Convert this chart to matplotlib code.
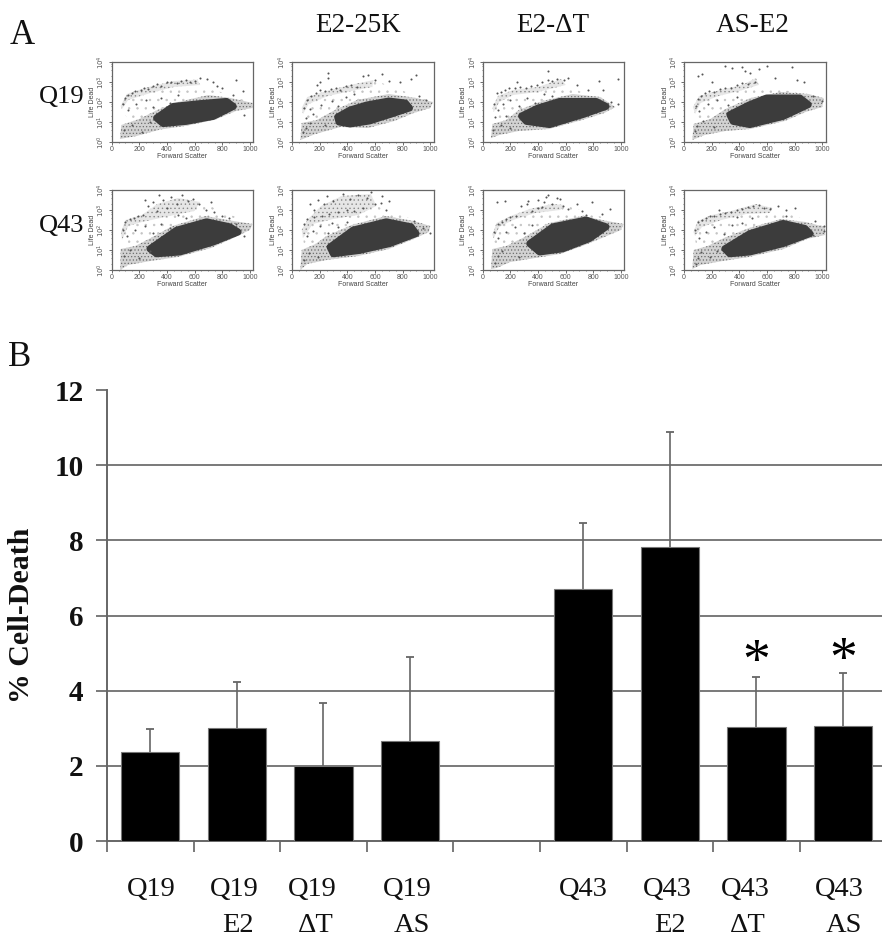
#!/usr/bin/env python3
import math

import matplotlib
matplotlib.use("Agg")
import matplotlib.pyplot as plt

W, H = 882, 939

# panel B values
bar_labels = ["Q19", "Q19", "Q19", "Q19", "", "Q43", "Q43", "Q43", "Q43"]
bar_labels2 = ["", "E2", "\u0394T", "AS", "", "", "E2", "\u0394T", "AS"]
label_px = [151, 234, 312, 407, None, 583, 667, 745, 839]
label2_px = [None, 238, 316, 412, None, None, 670, 748, 844]
bar_pos = [0.5, 1.5, 2.5, 3.5, 5.5, 6.5, 7.5, 8.5]
bar_vals = [2.38, 3.0, 2.0, 2.67, 6.7, 7.83, 3.03, 3.07]
bar_tops = [2.97, 4.22, 3.67, 4.9, 8.45, 10.87, 4.36, 4.47]
star_pos = [7.5, 8.5]
star_y = [4.72, 4.77]
yticks = [0, 2, 4, 6, 8, 10, 12]
grid_vals = [2, 4, 6, 8, 10]

# panel A: dense core, grey halo, upper arc, loose dots
# x is forward scatter, y is log10 of life/dead
p1_core = [(325, 1.2), (445, 1.78), (640, 1.92), (831, 2.03), (880, 1.78), (735, 1.28), (540, 1.03), (373, .92)]
p1_halo = [(60, .15), (70, .85), (200, 1.15), (330, 1.6), (480, 2.0), (700, 2.35), (860, 2.2), (1020, 1.95), (1020, 1.7), (900, 1.55), (750, 1.12), (550, .82), (350, .62), (180, .3)]
p1_arc = [(65, 1.8), (110, 2.4), (250, 2.72), (450, 3.05), (620, 3.12), (640, 2.85), (450, 2.75), (280, 2.45), (120, 2.1), (75, 1.65)]
p1_x = [80, 95, 120, 150, 170, 210, 235, 260, 300, 330, 360, 400, 430, 470, 505, 540, 570, 600, 640, 690, 730, 760, 800, 900, 950, 120, 180, 250, 300, 360, 420, 480, 90, 150, 220, 280, 880, 960]
p1_y = [1.9, 2.2, 2.35, 2.45, 2.55, 2.62, 2.7, 2.66, 2.78, 2.88, 2.8, 2.98, 3.02, 2.95, 3.05, 3.1, 3.0, 3.05, 3.2, 3.15, 3.0, 2.8, 2.7, 3.1, 2.55, 1.6, 1.9, 2.1, 1.75, 2.2, 1.95, 2.35, .6, .85, .5, 1.0, 2.35, 1.35]

p2_core = [(330, 1.25), (420, 1.6), (540, 1.85), (700, 2.05), (820, 1.95), (850, 1.7), (720, 1.4), (560, 1.05), (420, .9), (340, 1.0)]
p2_halo = [(60, .1), (70, .95), (180, 1.1), (310, 1.6), (470, 2.1), (700, 2.4), (900, 2.2), (1020, 2.0), (1000, 1.7), (880, 1.45), (740, 1.05), (550, .7), (350, .75), (170, .4)]
p2_arc = [(70, 1.7), (110, 2.25), (250, 2.55), (420, 2.85), (590, 3.1), (580, 2.75), (430, 2.55), (260, 2.3), (120, 1.9), (80, 1.4)]
p2_x = [90, 110, 140, 170, 200, 240, 280, 320, 350, 390, 430, 470, 510, 550, 600, 650, 700, 780, 860, 900, 100, 130, 200, 260, 330, 390, 450, 150, 210, 260, 290, 80, 100, 130, 240, 920, 970, 180]
p2_y = [1.7, 2.1, 2.3, 2.45, 2.6, 2.55, 2.65, 2.7, 2.6, 2.8, 2.85, 2.75, 3.3, 3.35, 3.1, 3.4, 3.05, 3.0, 3.15, 3.35, 1.2, 1.65, 3.0, 3.2, 1.8, 2.25, 2.4, 1.4, 1.85, 3.45, 2.05, .5, .7, .95, .85, 2.3, 2.1, 2.85]

p3_core = [(281, 1.3), (400, 1.7), (557, 2.03), (820, 2.03), (892, 1.78), (724, 1.37), (484, .87), (316, 1.03)]
p3_halo = [(60, .2), (70, .9), (170, 1.1), (260, 1.6), (430, 2.05), (650, 2.4), (850, 2.25), (960, 1.75), (880, 1.45), (720, 1.1), (480, .65), (260, .55), (120, .35)]
p3_arc = [(70, 1.7), (110, 2.3), (220, 2.6), (400, 2.75), (570, 3.15), (600, 2.85), (400, 2.5), (220, 2.35), (120, 2.0), (80, 1.5)]
p3_x = [85, 100, 130, 160, 190, 230, 270, 310, 350, 390, 430, 470, 500, 540, 590, 620, 680, 760, 840, 980, 110, 150, 200, 260, 320, 380, 440, 500, 90, 75, 130, 200, 470, 870, 930, 980, 250, 170]
p3_y = [1.9, 2.45, 2.5, 2.6, 2.68, 2.7, 2.75, 2.7, 2.8, 2.85, 3.0, 3.1, 3.05, 3.15, 3.1, 3.2, 2.85, 2.6, 3.05, 3.15, 1.6, 1.9, 2.1, 1.8, 2.2, 1.95, 2.4, 2.3, 1.25, .6, .85, .7, 3.55, 2.6, 2.0, 1.9, 3.0, 1.3]

p4_core = [(331, 1.37), (470, 1.85), (597, 2.2), (838, 2.2), (899, 1.87), (717, 1.28), (476, .87), (355, 1.03)]
p4_halo = [(60, .1), (70, .9), (190, 1.15), (300, 1.65), (480, 2.2), (700, 2.5), (900, 2.4), (1010, 2.2), (1000, 1.75), (880, 1.5), (730, 1.05), (480, .65), (300, .55), (150, .35)]
p4_arc = [(65, 1.75), (110, 2.3), (260, 2.6), (420, 2.85), (520, 3.2), (540, 2.85), (400, 2.55), (250, 2.3), (120, 1.95), (80, 1.4)]
p4_x = [85, 100, 120, 150, 180, 220, 260, 300, 340, 380, 420, 460, 510, 100, 130, 300, 350, 420, 440, 480, 540, 600, 660, 780, 820, 870, 110, 170, 240, 320, 380, 80, 95, 140, 220, 930, 1000, 200]
p4_y = [1.8, 2.15, 2.3, 2.45, 2.55, 2.5, 2.65, 2.7, 2.72, 2.85, 2.95, 2.9, 3.0, 3.3, 3.4, 3.8, 3.7, 3.75, 3.55, 3.45, 3.65, 3.8, 3.2, 3.75, 3.1, 3.0, 1.55, 1.9, 2.1, 1.85, 2.25, .55, .8, 1.05, .75, 2.3, 2.05, 3.0]

p5_core = [(277, 1.06), (470, 1.99), (687, 2.41), (855, 2.16), (915, 1.9), (735, 1.4), (494, .9), (325, .81)]
p5_halo = [(62, 0), (65, 1.05), (170, 1.2), (270, 1.55), (440, 2.2), (680, 2.7), (880, 2.45), (1020, 2.3), (1000, 2.0), (880, 1.6), (720, 1.1), (480, .65), (280, .45), (120, .25)]
p5_arc = [(68, 1.9), (100, 2.5), (220, 2.75), (330, 3.3), (480, 3.6), (640, 3.4), (600, 2.95), (420, 2.7), (220, 2.4), (120, 2.2), (75, 1.5)]
p5_x = [80, 100, 130, 160, 190, 230, 260, 300, 330, 370, 400, 430, 470, 510, 550, 590, 630, 680, 720, 800, 110, 170, 240, 300, 360, 420, 90, 130, 200, 280, 740, 850, 900, 960, 240, 340, 480, 540]
p5_y = [2.0, 2.4, 2.55, 2.6, 2.7, 2.75, 3.2, 3.4, 2.95, 3.5, 3.1, 3.65, 3.3, 3.75, 3.45, 3.55, 3.3, 3.0, 3.4, 2.7, 1.7, 2.0, 2.2, 1.85, 2.3, 2.1, .7, 1.0, .6, .95, 2.9, 2.6, 2.3, 1.7, 3.5, 3.75, 2.75, 2.6]

p6_core = [(275, 1.15), (443, 2.0), (682, 2.41), (861, 2.16), (897, 1.82), (706, 1.32), (490, .98), (299, .81)]
p6_halo = [(60, 0), (70, 1.0), (170, 1.3), (250, 1.7), (430, 2.25), (680, 2.7), (880, 2.45), (1000, 2.2), (990, 1.9), (880, 1.55), (700, 1.05), (480, .7), (250, .5), (110, .3)]
p6_arc = [(70, 2.0), (110, 2.5), (210, 3.2), (360, 3.7), (570, 3.8), (610, 3.2), (480, 2.75), (300, 2.55), (150, 2.3), (80, 1.6)]
p6_x = [85, 110, 130, 160, 190, 220, 250, 270, 300, 330, 370, 400, 420, 450, 480, 510, 540, 570, 600, 650, 680, 110, 150, 200, 260, 330, 400, 90, 120, 190, 880, 950, 1000, 160, 230, 290, 640, 700]
p6_y = [2.3, 2.55, 3.3, 2.65, 3.5, 2.7, 3.7, 2.8, 3.45, 2.9, 3.8, 3.0, 3.55, 2.95, 3.75, 3.1, 3.6, 3.9, 3.3, 3.7, 3.0, 1.7, 1.95, 2.2, 1.85, 2.15, 2.4, .5, .85, .65, 2.45, 2.1, 1.85, 3.0, 3.3, 2.35, 3.35, 3.45]

p7_core = [(340, 1.32), (508, 2.16), (748, 2.5), (892, 2.16), (772, 1.57), (580, 1.06), (412, .9)]
p7_halo = [(60, .05), (70, 1.05), (170, 1.2), (290, 1.6), (480, 2.35), (720, 2.7), (900, 2.45), (1020, 2.3), (1000, 2.0), (880, 1.65), (740, 1.25), (560, .8), (380, .6), (200, .4), (100, .1)]
p7_arc = [(70, 1.75), (100, 2.35), (220, 2.75), (340, 3.05), (500, 3.3), (590, 3.25), (560, 3.0), (380, 2.85), (220, 2.5), (120, 2.15), (80, 1.6)]
p7_x = [85, 110, 140, 170, 200, 240, 280, 320, 360, 400, 430, 460, 500, 540, 580, 620, 680, 720, 790, 860, 920, 110, 170, 230, 300, 360, 90, 110, 140, 260, 440, 470, 400, 330, 750, 100, 160, 560]
p7_y = [1.9, 2.3, 2.4, 2.55, 2.65, 2.7, 3.2, 3.3, 2.95, 3.5, 3.15, 3.65, 3.3, 3.6, 3.2, 3.05, 3.3, 2.95, 3.4, 2.8, 3.05, 1.6, 1.9, 2.15, 1.85, 2.25, .35, .7, .95, .65, 3.4, 3.75, 3.1, 3.45, 2.75, 3.4, 3.45, 3.55]

p8_core = [(295, 1.06), (476, 1.82), (717, 2.33), (874, 2.08), (911, 1.82), (717, 1.32), (476, .9), (331, .81)]
p8_halo = [(60, .05), (70, 1.0), (170, 1.2), (290, 1.6), (470, 2.1), (700, 2.55), (880, 2.4), (1020, 2.15), (1020, 1.75), (890, 1.55), (720, 1.05), (470, .65), (280, .45), (120, .25)]
p8_arc = [(68, 1.9), (100, 2.45), (200, 2.75), (340, 2.95), (520, 3.3), (640, 3.1), (620, 2.85), (450, 2.8), (270, 2.5), (130, 2.15), (80, 1.7)]
p8_x = [80, 100, 130, 160, 190, 220, 260, 300, 340, 380, 420, 460, 500, 540, 580, 620, 680, 740, 800, 110, 160, 220, 290, 350, 420, 85, 100, 120, 190, 240, 1015, 1015, 950, 930, 740, 380, 490, 250]
p8_y = [2.0, 2.4, 2.5, 2.6, 2.72, 2.7, 2.8, 2.85, 2.9, 3.0, 3.05, 3.15, 3.2, 3.25, 3.1, 3.05, 3.2, 3.0, 3.1, 1.6, 1.9, 2.15, 1.8, 2.25, 2.35, .3, .6, .9, .65, .95, 2.2, 1.95, 2.45, 1.75, 2.7, 2.65, 2.6, 3.0]

panels = [
    (p1_core, p1_halo, p1_arc, p1_x, p1_y, 111.6, 62),
    (p2_core, p2_halo, p2_arc, p2_x, p2_y, 292, 62),
    (p3_core, p3_halo, p3_arc, p3_x, p3_y, 482.7, 62),
    (p4_core, p4_halo, p4_arc, p4_x, p4_y, 684, 62),
    (p5_core, p5_halo, p5_arc, p5_x, p5_y, 111.6, 190),
    (p6_core, p6_halo, p6_arc, p6_x, p6_y, 292, 190),
    (p7_core, p7_halo, p7_arc, p7_x, p7_y, 482.7, 190),
    (p8_core, p8_halo, p8_arc, p8_x, p8_y, 684, 190),
]

plt.rcParams["font.family"] = ["Liberation Serif", "DejaVu Sans"]
plt.rcParams["hatch.linewidth"] = 0.5
fig = plt.figure(figsize=(W / 100, H / 100), dpi=100)


def px_axes(left, top, right, bottom):
    return fig.add_axes([left / W, 1 - bottom / H, (right - left) / W, (bottom - top) / H])


def px_text(x, y, s, size, **kw):
    fig.text(x / W, 1 - y / H, s, fontsize=size, ha="center", va="center", color="#111111", **kw)


def draw_panel(core, halo, arc, xs, ys, left, top):
    ax = px_axes(left, top, left + 141.6, top + 80)
    # sparse cloud between the arc and the main population
    far = max(range(len(arc)), key=lambda i: arc[i][0])
    tip = max(range(len(halo)), key=lambda i: halo[i][0])
    cloud = arc[:far + 1] + halo[tip:]
    ax.fill(*zip(*cloud), fc="white", ec="#c4c4c4", hatch="..", lw=0)
    ax.fill(*zip(*arc), fc="#e6e6e6", ec="#8a8a8a", hatch="....", lw=0)
    ax.fill(*zip(*halo), fc="#d2d2d2", ec="#6e6e6e", hatch=".....", lw=0)
    ax.fill(*zip(*core), color="#3c3c3c", lw=5, ec="#3c3c3c", joinstyle="round")
    ax.scatter(xs, ys, s=2.2, color="#555555", lw=0)
    ax.set_xlim(0, 1024)
    ax.set_ylim(0, 4)
    ax.set_xticks([0, 200, 400, 600, 800, 1000])
    ax.set_xticks(range(0, 1024, 50), minor=True)
    ax.set_yticks([0, 1, 2, 3, 4])
    ax.set_yticks([i + math.log10(k) for i in range(4) for k in (2, 4, 6, 8)], minor=True)
    ax.set_yticklabels([f"$10^{i}$" for i in range(5)], rotation=90, va="center")
    ax.tick_params(labelsize=5, length=2, width=0.6, pad=1, colors="#555555")
    ax.tick_params(which="minor", length=1, width=0.5, color="#555555")
    ax.set_xlabel("Forward Scatter", fontsize=5, labelpad=0, family="Liberation Sans", color="#444444")
    ax.set_ylabel("Life Dead", fontsize=5, labelpad=0, family="Liberation Sans", color="#444444")
    for label in ax.get_xticklabels():
        label.set_family("Liberation Sans")
    for spine in ax.spines.values():
        spine.set_color("#666666")
        spine.set_linewidth(0.9)


for panel in panels:
    draw_panel(*panel)

# panel B
ax = px_axes(107, 390, 882, 841)
for v in grid_vals:
    ax.axhline(v, color="#555555", lw=1.1, zorder=1)
ax.bar(bar_pos, bar_vals, width=0.67, color="black", edgecolor="#777777", lw=0.8, zorder=3)
_, caps, _ = ax.errorbar(bar_pos, bar_vals, yerr=[[0] * len(bar_vals), [t - v for t, v in zip(bar_tops, bar_vals)]],
                         fmt="none", ecolor="#666666", elinewidth=1.2, capsize=3, capthick=1.3, zorder=2)
caps[0].set_visible(False)
ax.set_xlim(0, 775 / 86.6)
ax.set_ylim(0, 12)
ax.set_xticks(range(9))
ax.set_xticklabels([])
ax.set_yticks(yticks)
ax.set_yticklabels(yticks, fontsize=21, fontweight="bold", color="#111111")
ax.tick_params(axis="both", length=8, width=1.1, color="#555555")
ax.tick_params(axis="y", pad=9)
for side in ["top", "right"]:
    ax.spines[side].set_visible(False)
for side in ["left", "bottom"]:
    ax.spines[side].set_color("#666666")
    ax.spines[side].set_linewidth(1.4)
for x, y in zip(star_pos, star_y):
    ax.text(x, y, "*", fontsize=40, ha="center", va="center", color="black", zorder=4)

for x, s in zip(label_px, bar_labels):
    if x is not None:
        px_text(x, 889, s, 20.5)
for x, s in zip(label2_px, bar_labels2):
    if x is not None:
        px_text(x, 925, s, 20.5)

px_text(22, 36, "A", 25)
px_text(20, 358, "B", 25)
px_text(358, 26, "E2-25K", 19.5)
px_text(553, 26, "E2-\u0394T", 19.5)
px_text(753, 26, "AS-E2", 19.5)
px_text(62, 97, "Q19", 19)
px_text(62, 226, "Q43", 19)
px_text(22, 615, "% Cell-Death", 21.5, rotation=90, fontweight="bold")

fig.savefig("out.png", dpi=100)
